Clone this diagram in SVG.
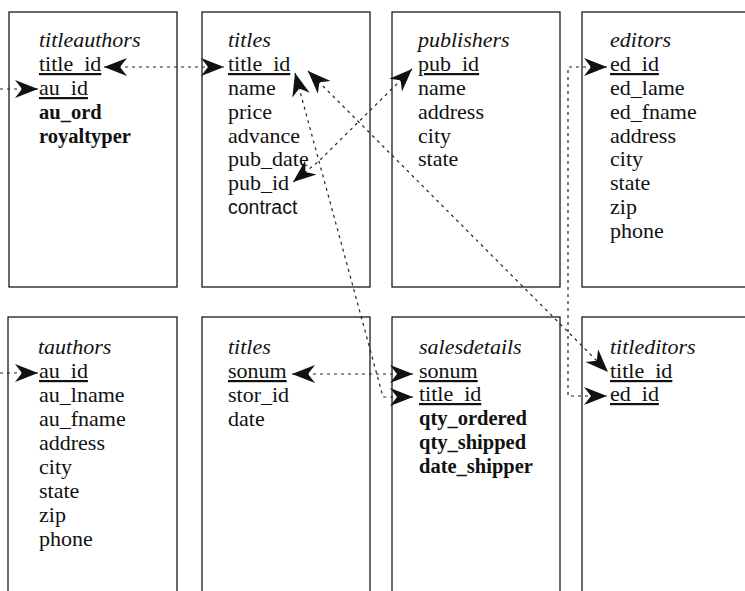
<svg xmlns="http://www.w3.org/2000/svg" width="745" height="591" viewBox="0 0 745 591">
<style>
.box{fill:none;stroke:#1a1a1a;stroke-width:1.3}
text{font-family:"Liberation Serif","Times New Roman",serif;font-size:22px;fill:#111}
.h{font-style:italic}
.b{font-weight:bold;font-size:20.5px}
.k{text-decoration:underline}
.s{font-family:"Liberation Sans",Arial,sans-serif;font-size:19.5px}
.c{fill:none;stroke:#222;stroke-width:1.2;stroke-dasharray:3 4}
</style>
<defs>
<marker id="ah" markerUnits="userSpaceOnUse" markerWidth="30" markerHeight="24" refX="0" refY="0" orient="auto-start-reverse" style="overflow:visible">
<path d="M0,0 L-23,-9 L-16,0 L-23,9 Z" fill="#111"/>
</marker>
</defs>
<rect width="745" height="591" fill="#fff"/>

<g id="titleauthors">
<rect class="box" x="9" y="12" width="168" height="275"/>
<text x="39" y="47" class="h">titleauthors</text>
<text x="39" y="71" class="k">title_id</text>
<text x="39" y="95" class="k">au_id</text>
<text x="39" y="119" class="b">au_ord</text>
<text x="39" y="143" class="b">royaltyper</text>
</g>

<g id="titles">
<rect class="box" x="202" y="12" width="168" height="275"/>
<text x="228" y="47" class="h">titles</text>
<text x="228" y="71" class="k">title_id</text>
<text x="228" y="95">name</text>
<text x="228" y="119">price</text>
<text x="228" y="143">advance</text>
<text x="228" y="166">pub_date</text>
<text x="228" y="190">pub_id</text>
<text x="228" y="214" class="s">contract</text>
</g>

<g id="publishers">
<rect class="box" x="392" y="12" width="168" height="275"/>
<text x="418" y="47" class="h">publishers</text>
<text x="418" y="71" class="k">pub_id</text>
<text x="418" y="95">name</text>
<text x="418" y="119">address</text>
<text x="418" y="143">city</text>
<text x="418" y="166">state</text>
</g>

<g id="editors">
<rect class="box" x="582" y="12" width="180" height="275"/>
<text x="610" y="47" class="h">editors</text>
<text x="610" y="71" class="k">ed_id</text>
<text x="610" y="95">ed_lame</text>
<text x="610" y="119">ed_fname</text>
<text x="610" y="143">address</text>
<text x="610" y="166">city</text>
<text x="610" y="190">state</text>
<text x="610" y="214">zip</text>
<text x="610" y="238">phone</text>
</g>

<g id="tauthors">
<rect class="box" x="8" y="317" width="169" height="290"/>
<text x="38" y="354" class="h">tauthors</text>
<text x="39" y="378" class="k">au_id</text>
<text x="39" y="402">au_lname</text>
<text x="39" y="426">au_fname</text>
<text x="39" y="450">address</text>
<text x="39" y="474">city</text>
<text x="39" y="498">state</text>
<text x="39" y="522">zip</text>
<text x="39" y="546">phone</text>
</g>

<g id="titles2">
<rect class="box" x="202" y="317" width="168" height="290"/>
<text x="228" y="354" class="h">titles</text>
<text x="228" y="378" class="k">sonum</text>
<text x="228" y="402">stor_id</text>
<text x="228" y="426">date</text>
</g>

<g id="salesdetails">
<rect class="box" x="392" y="317" width="168" height="290"/>
<text x="419" y="354" class="h">salesdetails</text>
<text x="419" y="378" class="k">sonum</text>
<text x="419" y="401" class="k">title_id</text>
<text x="419" y="425" class="b">qty_ordered</text>
<text x="419" y="449" class="b">qty_shipped</text>
<text x="419" y="473" class="b">date_shipper</text>
</g>

<g id="titleditors">
<rect class="box" x="582" y="317" width="180" height="290"/>
<text x="610" y="354" class="h">titleditors</text>
<text x="610" y="378" class="k">title_id</text>
<text x="610" y="401" class="k">ed_id</text>
</g>

<g id="connectors">
<path class="c" d="M104,67 L224,67" marker-start="url(#ah)" marker-end="url(#ah)"/>
<path class="c" d="M0,89 L38,89" marker-end="url(#ah)"/>
<path class="c" d="M0,373 L38,373" marker-end="url(#ah)"/>
<path class="c" d="M412,69 L319,161 L293,182" marker-start="url(#ah)" marker-end="url(#ah)"/>
<path class="c" d="M295,73 L383,397 L413,397" marker-start="url(#ah)" marker-end="url(#ah)"/>
<path class="c" d="M308,71 L608,372" marker-start="url(#ah)" marker-end="url(#ah)"/>
<path class="c" d="M292,374 L413,374" marker-start="url(#ah)" marker-end="url(#ah)"/>
<path class="c" d="M607,67 L568,67 L568,396 L607,396" marker-start="url(#ah)" marker-end="url(#ah)"/>
</g>
</svg>
